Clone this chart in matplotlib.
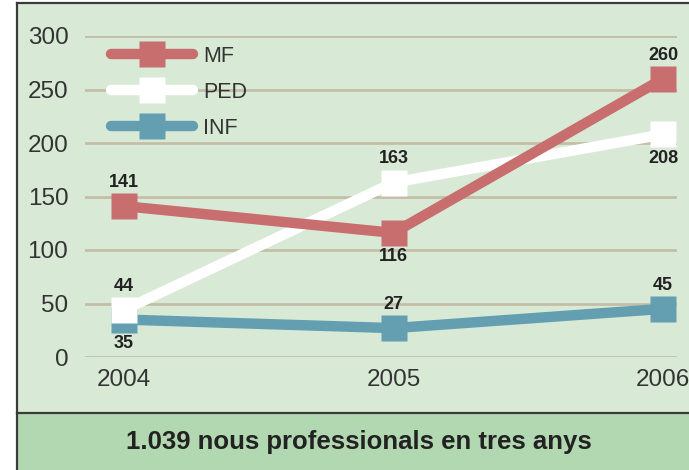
import matplotlib.pyplot as plt
from matplotlib.patches import Rectangle
from matplotlib.lines import Line2D

# chart data
years = [2004, 2005, 2006]
mf = [141, 116, 260]
ped = [44, 163, 208]
inf = [35, 27, 45]
series_names = ['MF', 'PED', 'INF']
caption = '1.039 nous professionals en tres anys'

# label placement (above / below marker) per series and year
mf_pos = ['up', 'down', 'up']
ped_pos = ['up', 'up', 'down']
inf_pos = ['down', 'up', 'up']

c_mf = '#c86e6e'
c_ped = '#ffffff'
c_inf = '#649fb1'
bg = '#d8ead6'
band = '#b1d8b1'
grid_c = '#c4bea6'

plt.rcParams['font.family'] = ['Liberation Sans', 'DejaVu Sans']

W, H = 689, 470
fig = plt.figure(figsize=(W / 100, H / 100), dpi=100)
fig.patch.set_facecolor('white')

# panel background and caption band (figure coordinates)
def fx(px):
    return px / W

def fy(py):
    return 1 - py / H

fig.patches.append(Rectangle((fx(17), fy(413)), 1, fy(3) - fy(413),
                             transform=fig.transFigure, facecolor=bg, edgecolor='none', zorder=-5))
fig.patches.append(Rectangle((fx(17), 0), 1, fy(413), transform=fig.transFigure,
                             facecolor=band, edgecolor='none', zorder=-5))
for xs, ys in [([fx(17), 1], [fy(3), fy(3)]),
               ([fx(17), fx(17)], [0, fy(3)]),
               ([fx(17), 1], [fy(413), fy(413)])]:
    fig.add_artist(Line2D(xs, ys, transform=fig.transFigure, color='#3a3a3a', lw=1.6, zorder=-4))

fig.text(fx(359), fy(442), caption, ha='center', va='center', fontsize=18.5,
         fontweight='bold', color='#222222')

ax = fig.add_axes([fx(85), fy(357), fx(677) - fx(85), fy(36) - fy(357)])
ax.set_facecolor('none')
ax.set_xlim(2003.855, 2006.052)
ax.set_ylim(0, 300)
ax.set_yticks([0, 50, 100, 150, 200, 250, 300])
ax.set_xticks(years)
ax.set_xticklabels([str(y) for y in years])
for s in ax.spines.values():
    s.set_visible(False)
ax.yaxis.grid(True, color=grid_c, lw=2)
ax.set_axisbelow(True)
ax.tick_params(length=0, labelsize=17.5, labelcolor='#333333')
ax.tick_params(axis='y', pad=12)
ax.tick_params(axis='x', pad=9)

lines = []
for vals, col, name, z in [(inf, c_inf, 'INF', 3), (ped, c_ped, 'PED', 4), (mf, c_mf, 'MF', 5)]:
    ln, = ax.plot(years, vals, color=col, lw=7.5, marker='s', ms=19, mec='none',
                  label=name, zorder=z, clip_on=False, solid_capstyle='round')
    lines.append(ln)

for vals, pos in [(mf, mf_pos), (ped, ped_pos), (inf, inf_pos)]:
    for x, v, p in zip(years, vals, pos):
        off = 17 if p == 'up' else -17
        ax.annotate(str(v), (x, v), xytext=(0, off), textcoords='offset points',
                    ha='center', va='center', fontsize=13, fontweight='bold',
                    color='#222222', zorder=6)

handles = [lines[2], lines[1], lines[0]]
leg = ax.legend(handles, series_names, loc='upper left', bbox_to_anchor=(0.03, 0.997),
                frameon=False, fontsize=15.5, handlelength=3.8, labelspacing=0.7,
                handletextpad=0.45, borderaxespad=0)
for t in leg.get_texts():
    t.set_color('#333333')

fig.savefig('out.png', dpi=100, facecolor=fig.get_facecolor())
